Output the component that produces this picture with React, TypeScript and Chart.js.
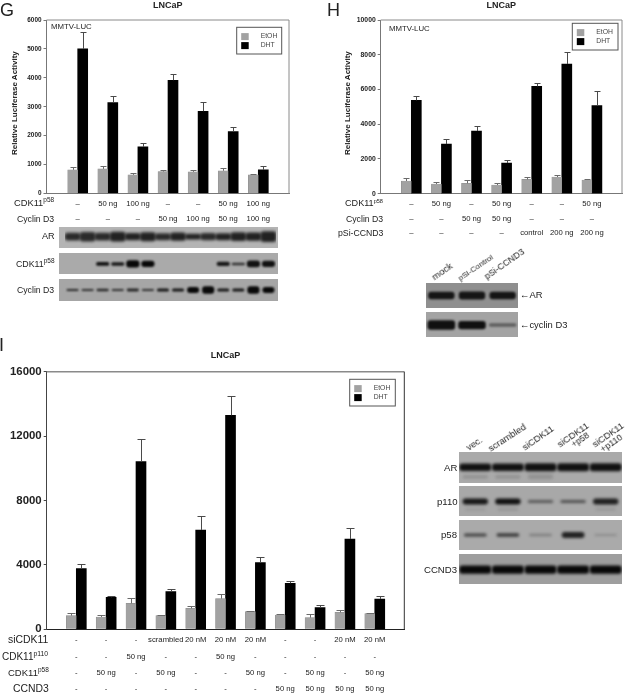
import React, { useEffect, useRef } from "react";
import { Chart, registerables } from "chart.js";

Chart.register(...registerables);

const FONT = "'Liberation Sans', Arial, sans-serif";
const TEXT = "#222";

// ---------- Panel G ----------
const gEtoh = [820, 850, 645, 760, 750, 785, 645];
const gEtohUpper = [910, 955, 700, 818, 818, 875, 680];
const gDht = [5000, 3145, 1613, 3917, 2845, 2143, 818];
const gDhtUpper = [5600, 3375, 1740, 4125, 3157, 2316, 968];
const gCdk = ["–", "50 ng", "100 ng", "–", "–", "50 ng", "100 ng"];
const gCyclin = ["–", "–", "–", "50 ng", "100 ng", "50 ng", "100 ng"];

// ---------- Panel H ----------
const hEtoh = [730, 557, 595, 500, 825, 960, 787];
const hEtohUpper = [921, 653, 806, 614, 940, 1055, 864];
const hDht = [5374, 2860, 3608, 1766, 6180, 7466, 5067];
const hDhtUpper = [5604, 3148, 3877, 1920, 6392, 8138, 5893];
const hCdk = ["–", "50 ng", "–", "50 ng", "–", "–", "50 ng"];
const hCyclin = ["–", "–", "50 ng", "50 ng", "–", "–", "–"];
const hPsi = ["–", "–", "–", "–", "control", "200 ng", "200 ng"];

// ---------- Panel I ----------
const iEtoh = [849, 766, 1615, 849, 1304, 1905, 1097, 890, 725, 1056, 973];
const iEtohUpper = [994, 911, 1925, 890, 1470, 2174, 1139, 932, 932, 1180, 1014];
const iDht = [3768, 1988, 10414, 2340, 6170, 13292, 4141, 2857, 1346, 5610, 1884];
const iDhtUpper = [4037, 2050, 11800, 2484, 7040, 14513, 4513, 2981, 1491, 6294, 2050];
const iSi = ["-", "-", "-", "scrambled", "20 nM", "20 nM", "20 nM", "-", "-", "20 nM", "20 nM"];
const iP110 = ["-", "-", "50 ng", "-", "-", "50 ng", "-", "-", "-", "-", "-"];
const iP58 = ["-", "50 ng", "-", "50 ng", "-", "-", "50 ng", "-", "50 ng", "-", "50 ng"];
const iCcnd3 = ["-", "-", "-", "-", "-", "-", "-", "50 ng", "50 ng", "50 ng", "50 ng"];

// ---------- Blot band strengths, lane by lane ----------
const gArWidth = [0.34, 0.42, 0.34, 0.44, 0.32, 0.4, 0.3, 0.36, 0.24, 0.32, 0.3, 0.38, 0.36, 0.48];
const gArDark = [0.8, 0.8, 0.8, 0.85, 0.85, 0.85, 0.8, 0.85, 0.85, 0.8, 0.85, 0.85, 0.85, 0.85];
const gCdkWidth = [0, 0, 0.18, 0.17, 0.34, 0.3, 0, 0, 0, 0, 0.2, 0.12, 0.32, 0.3];
const gCdkDark = [0, 0, 0.95, 0.9, 1, 1, 0, 0, 0, 0, 0.9, 0.75, 0.95, 0.95];
const gCycWidth = [0.1, 0.09, 0.11, 0.1, 0.13, 0.09, 0.14, 0.14, 0.28, 0.34, 0.14, 0.14, 0.34, 0.28];
const gCycDark = [0.8, 0.75, 0.8, 0.75, 0.8, 0.75, 0.9, 0.9, 1, 1, 0.9, 0.9, 1, 1];

const hArWidth = [0.3, 0.32, 0.3];
const hArDark = [0.9, 0.9, 0.9];
const hCycWidth = [0.38, 0.33, 0.14];
const hCycDark = [0.95, 0.95, 0.45];

const iArWidth = [0.24, 0.24, 0.26, 0.26, 0.26];
const iArDark = [0.95, 0.95, 0.95, 0.95, 0.95];
const iArFaint = [0.12, 0.12, 0.16, 0, 0];
const iP110Width = [0.2, 0.2, 0.1, 0.1, 0.2];
const iP110Dark = [0.9, 0.95, 0.5, 0.55, 0.85];
const iP110Faint = [0.05, 0.07, 0, 0, 0.06];
const iP58Width = [0.1, 0.12, 0.08, 0.2, 0.06];
const iP58Dark = [0.65, 0.7, 0.28, 0.85, 0.2];
const iCcnd3Width = [0.28, 0.27, 0.27, 0.27, 0.27];
const iCcnd3Dark = [1, 1, 1, 1, 1];

const legendNames = ["EtOH", "DHT"];

function band(center: number, w: number[]) {
  return w.map((t) => [center - t / 2, center + t / 2]);
}

function BarPanel(props: any) {
  const ref = useRef<HTMLCanvasElement | null>(null);
  const p = props.p;
  useEffect(() => {
    const errorBars = {
      id: "errorBars",
      afterDatasetsDraw(chart: any) {
        const ctx = chart.ctx;
        const y = chart.scales.y;
        ctx.save();
        ctx.lineWidth = 1;
        chart.data.datasets.forEach((ds: any, i: number) => {
          const meta = chart.getDatasetMeta(i);
          ctx.strokeStyle = ds.whiskerColor;
          meta.data.forEach((bar: any, j: number) => {
            const up = Math.round(y.getPixelForValue(ds.upper[j])) + 0.5;
            const x = Math.round(bar.x) + 0.5;
            ctx.beginPath();
            ctx.moveTo(x, bar.y);
            ctx.lineTo(x, up);
            ctx.moveTo(x - p.cap, up);
            ctx.lineTo(x + p.cap, up);
            ctx.stroke();
          });
        });
        ctx.restore();
      },
    };
    const frame = {
      id: "frame",
      afterDraw(chart: any) {
        const { ctx, chartArea: a } = chart;
        ctx.save();
        ctx.lineWidth = p.frameTopWidth;
        ctx.strokeStyle = p.frameTop;
        ctx.beginPath();
        ctx.moveTo(a.left, a.top);
        ctx.lineTo(a.right, a.top);
        ctx.stroke();
        ctx.lineWidth = 1;
        ctx.strokeStyle = p.frameRight;
        ctx.beginPath();
        ctx.moveTo(a.right, a.top);
        ctx.lineTo(a.right, a.bottom);
        ctx.stroke();
        // legend box
        const l = p.legend;
        const x = a.right - l.right - l.w;
        const yy = a.top + l.top;
        ctx.fillStyle = "#fff";
        ctx.strokeStyle = "#555";
        ctx.fillRect(x, yy, l.w, l.h);
        ctx.strokeRect(x, yy, l.w, l.h);
        chart.data.datasets.forEach((ds: any, i: number) => {
          const rowY = yy + 9.3 + i * 9;
          ctx.fillStyle = ds.backgroundColor;
          ctx.fillRect(x + 4.5, rowY - 3.5, 7.5, 7);
          ctx.fillStyle = "#444";
          ctx.font = `6.8px ${FONT}`;
          ctx.textBaseline = "middle";
          ctx.textAlign = "left";
          ctx.fillText(ds.label, x + 24, rowY);
        });
        ctx.restore();
      },
    };
    const toXY = (a: number[]) => a.map((v, i) => ({ x: i + 1, y: v }));
    const chart = new Chart(ref.current as any, {
      type: "bar",
      data: {
        datasets: [
          {
            label: legendNames[0],
            data: toXY(p.etoh),
            backgroundColor: "#a2a2a2",
            borderColor: "#8c8c8c",
            borderWidth: 0.5,
            barThickness: 10,
            upper: p.etohUpper,
            whiskerColor: "#6a6a6a",
          },
          {
            label: legendNames[1],
            data: toXY(p.dht),
            backgroundColor: "#000000",
            barThickness: 10,
            upper: p.dhtUpper,
            whiskerColor: "#4a4a4a",
          },
        ] as any,
      },
      plugins: [errorBars, frame],
      options: {
        animation: false,
        responsive: false,
        layout: { padding: { right: p.w - p.right, top: 0, left: 0, bottom: 0 } },
        plugins: {
          legend: { display: false },
          tooltip: { enabled: false },
          title: {
            display: true,
            text: "LNCaP",
            color: TEXT,
            fullSize: false,
            font: { family: FONT, size: 9, weight: "bold", lineHeight: 1.2 },
            padding: { top: p.titleTop, bottom: p.top - p.titleTop - 10.8 },
          },
        },
        scales: {
          x: {
            type: "linear",
            min: p.xMin,
            max: p.xMax,
            offset: false,
            grid: { display: false, drawTicks: false },
            border: { color: p.frameBottom },
            afterFit(s: any) {
              s.height = p.h - p.bottom;
            },
            ticks: {
              stepSize: 1,
              includeBounds: false,
              autoSkip: false,
              maxRotation: 0,
              minRotation: 0,
              padding: p.rowPad,
              color: TEXT,
              font: { family: FONT, size: p.cellFont, lineHeight: p.rowH + "px" },
              callback(v: any) {
                const n = p.rows[0].length;
                return v >= 1 && v <= n && Number.isInteger(v) ? p.rows.map((r: string[]) => r[v - 1]) : "";
              },
            },
          } as any,
          y: {
            min: 0,
            max: p.yMax,
            grid: { drawOnChartArea: false, tickLength: 3, color: p.frameLeft },
            border: { color: p.frameLeft },
            afterFit(s: any) {
              s.width = p.left;
            },
            ticks: {
              stepSize: p.yStep,
              padding: 2,
              color: TEXT,
              font: { family: FONT, size: p.yFont, weight: "bold" },
              callback: (v: any) => String(v),
            },
          },
        },
      } as any,
    });
    return () => chart.destroy();
  }, []);
  return <canvas ref={ref} width={p.w} height={p.h} style={{ position: "absolute", left: p.x, top: p.y }} />;
}

function Strip(props: any) {
  const ref = useRef<HTMLCanvasElement | null>(null);
  const s = props.s;
  useEffect(() => {
    const blur = {
      id: "blur",
      beforeDatasetsDraw(chart: any) {
        chart.ctx.save();
        chart.ctx.filter = `blur(${s.blur ?? 1.1}px)`;
      },
      afterDatasetsDraw(chart: any) {
        chart.ctx.restore();
      },
    };
    const sets = [
      {
        data: band(s.center, s.width),
        backgroundColor: s.dark.map((d: number) => `rgba(8,8,8,${d})`),
        borderRadius: 3,
        borderSkipped: false,
        barPercentage: s.fill,
        categoryPercentage: 1,
        grouped: false,
      },
    ];
    if (s.faint) {
      sets.push({
        data: band(s.faintCenter, s.faint),
        backgroundColor: s.faint.map(() => "rgba(40,40,40,0.18)"),
        borderRadius: 3,
        borderSkipped: false,
        barPercentage: s.fill * 0.8,
        categoryPercentage: 1,
        grouped: false,
      });
    }
    const chart = new Chart(ref.current as any, {
      type: "bar",
      data: { labels: s.width.map((_: number, i: number) => String(i + 1)), datasets: sets as any },
      plugins: [blur],
      options: {
        animation: false,
        responsive: false,
        layout: { padding: { left: s.padL ?? 0, right: s.padR ?? 0 } },
        plugins: { legend: { display: false }, tooltip: { enabled: false } },
        scales: {
          x: { display: false },
          y: { display: false, min: 0, max: 1, reverse: true },
        },
      } as any,
    });
    return () => chart.destroy();
  }, []);
  return (
    <canvas
      ref={ref}
      width={s.r - s.l}
      height={s.b - s.t}
      style={{ position: "absolute", left: s.l, top: s.t, background: s.bg }}
    />
  );
}

function Txt(props: any) {
  const { x, rx, y, size, bold, color, children, rot } = props;
  const style: any = {
    position: "absolute",
    top: y,
    fontFamily: FONT,
    fontSize: size,
    fontWeight: bold ? "bold" : "normal",
    color: color || TEXT,
    whiteSpace: "nowrap",
    lineHeight: 1,
    willChange: "transform",
    transform: rot ? `rotate(${rot}deg)` : "translateY(-50%)",
    transformOrigin: "0 0",
  };
  if (rx !== undefined) style.right = 626 - rx;
  else style.left = x;
  return <div style={style}>{children}</div>;
}

const Sup = (props: any) => (
  <sup style={{ fontSize: props.size, lineHeight: 0, verticalAlign: "baseline", position: "relative", top: -props.size * 0.55 }}>
    {props.children}
  </sup>
);

const panelG = {
  x: 0, y: 0, w: 313, h: 226, left: 46.5, right: 289, top: 20, bottom: 193.5,
  etoh: gEtoh, etohUpper: gEtohUpper, dht: gDht, dhtUpper: gDhtUpper, rows: [gCdk, gCyclin],
  xMin: -0.0365, xMax: 8.02, yMax: 6000, yStep: 1000, yFont: 6.4, cellFont: 7.7, rowH: 14.6, rowPad: 3.5,
  titleTop: 0, cap: 3, frameTop: "#8a8a8a", frameTopWidth: 1, frameRight: "#8a8a8a", frameLeft: "#777", frameBottom: "#777",
  legend: { right: 7.3, top: 7.3, w: 45, h: 26.7 },
};
const panelH = {
  x: 313, y: 0, w: 313, h: 242, left: 67.7, right: 309, top: 20, bottom: 193.7,
  etoh: hEtoh, etohUpper: hEtohUpper, dht: hDht, dhtUpper: hDhtUpper, rows: [hCdk, hCyclin, hPsi],
  xMin: -0.017, xMax: 8.0, yMax: 10000, yStep: 2000, yFont: 6.8, cellFont: 7.7, rowH: 14.6, rowPad: 3,
  titleTop: 0, cap: 3, frameTop: "#8a8a8a", frameTopWidth: 1, frameRight: "#8a8a8a", frameLeft: "#777", frameBottom: "#777",
  legend: { right: 4, top: 3.3, w: 45.7, h: 26.7 },
};
const panelI = {
  x: 0, y: 340, w: 420, h: 355, left: 46.7, right: 404.3, top: 31.7, bottom: 289.3,
  etoh: iEtoh, etohUpper: iEtohUpper, dht: iDht, dhtUpper: iDhtUpper, rows: [iSi, iP110, iP58, iCcnd3],
  xMin: 0.008, xMax: 11.99, yMax: 16000, yStep: 4000, yFont: 11.4, cellFont: 7.7, rowH: 16.4, rowPad: 2.5,
  titleTop: 10.6, cap: 4, frameTop: "#8a8a8a", frameTopWidth: 1.5, frameRight: "#333", frameLeft: "#444", frameBottom: "#222",
  legend: { right: 9, top: 7.6, w: 45.6, h: 26.7 },
};

const strips = [
  { l: 59, r: 278, t: 227, b: 248, bg: "#b4b4b4", center: 0.46, width: gArWidth, dark: gArDark, fill: 1, padL: 6, padR: 2, blur: 1.5 },
  { l: 59, r: 278, t: 253, b: 274, bg: "#aaaaaa", center: 0.52, width: gCdkWidth, dark: gCdkDark, fill: 0.88, padL: 6, padR: 2 },
  { l: 59, r: 278, t: 279, b: 301, bg: "#a6a6a6", center: 0.5, width: gCycWidth, dark: gCycDark, fill: 0.8, padL: 6, padR: 2 },
  { l: 426, r: 518, t: 283, b: 308, bg: "#8f8f8f", center: 0.5, width: hArWidth, dark: hArDark, fill: 0.86, blur: 1.3 },
  { l: 426, r: 518, t: 312, b: 337, bg: "#a3a3a3", center: 0.52, width: hCycWidth, dark: hCycDark, fill: 0.9, blur: 1.3 },
  { l: 459, r: 622, t: 452, b: 483, bg: "#aaaaaa", center: 0.49, width: iArWidth, dark: iArDark, fill: 0.98, faint: iArFaint, faintCenter: 0.8, blur: 1.4 },
  { l: 459, r: 622, t: 486, b: 516, bg: "#a8a8a8", center: 0.52, width: iP110Width, dark: iP110Dark, fill: 0.78, faint: iP110Faint, faintCenter: 0.78, blur: 1.4 },
  { l: 459, r: 622, t: 520, b: 550, bg: "#aaaaaa", center: 0.5, width: iP58Width, dark: iP58Dark, fill: 0.7, blur: 1.4 },
  { l: 459, r: 622, t: 554, b: 584, bg: "#9e9e9e", center: 0.52, width: iCcnd3Width, dark: iCcnd3Dark, fill: 0.98, blur: 1.5 },
];

export default function App() {
  return (
    <div style={{ position: "absolute", left: 0, top: 0, width: 626, height: 695, background: "#fff", overflow: "hidden" }}>
      <BarPanel p={panelG} />
      <BarPanel p={panelH} />
      <BarPanel p={panelI} />
      {strips.map((s, i) => (
        <Strip key={i} s={s} />
      ))}

      <Txt x={0} y={10} size={18}>G</Txt>
      <Txt x={327} y={10} size={18}>H</Txt>
      <Txt x={-1.5} y={344.5} size={18}>I</Txt>

      <Txt x={50.7} y={27.3} size={7.8}>MMTV-LUC</Txt>
      <Txt x={388.7} y={29.3} size={7.8}>MMTV-LUC</Txt>

      <Txt x={11} y={155} size={8} bold rot={-90}>Relative Luciferase Activity</Txt>
      <Txt x={344} y={155} size={8} bold rot={-90}>Relative Luciferase Activity</Txt>

      {/* G row headings */}
      <Txt rx={54.3} y={204.3} size={9.3}>CDK11<Sup size={6.5}>p58</Sup></Txt>
      <Txt rx={54.3} y={219} size={8.7}>Cyclin D3</Txt>
      <Txt rx={54.3} y={236.7} size={9.1}>AR</Txt>
      <Txt rx={54.3} y={264} size={8.8}>CDK11<Sup size={6.5}>p58</Sup></Txt>
      <Txt rx={54.3} y={290} size={8.7}>Cyclin D3</Txt>

      {/* H row headings */}
      <Txt rx={383} y={204} size={9.1}>CDK11<Sup size={5.6}>p58</Sup></Txt>
      <Txt rx={383} y={218.5} size={8.7}>Cyclin D3</Txt>
      <Txt rx={383} y={233.3} size={8.7}>pSi-CCND3</Txt>
      <Txt x={429.5} y={273.5} size={9.6} rot={-35}>mock</Txt>
      <Txt x={456.5} y={275.5} size={8} rot={-34}>pSi-Control</Txt>
      <Txt x={483} y={274} size={8.9} rot={-35}>pSi-CCND3</Txt>
      <Txt x={520} y={295} size={9.4}>←AR</Txt>
      <Txt x={520} y={324.5} size={9.4}>←cyclin D3</Txt>

      {/* I row headings */}
      <Txt rx={48.3} y={640} size={10.4}>siCDK11</Txt>
      <Txt rx={48.3} y={657} size={10}>CDK11<Sup size={6.8}>p110</Sup></Txt>
      <Txt rx={48.3} y={673} size={9.5}>CDK11<Sup size={6.5}>p58</Sup></Txt>
      <Txt rx={48.3} y={689} size={10.4}>CCND3</Txt>

      <Txt rx={457.5} y={467.5} size={9.6}>AR</Txt>
      <Txt rx={457.5} y={501.5} size={9.6}>p110</Txt>
      <Txt rx={457.5} y={535} size={9.6}>p58</Txt>
      <Txt rx={457.5} y={569.5} size={9.6}>CCND3</Txt>

      <Txt x={465} y={445} size={9.3} rot={-33}>vec.</Txt>
      <Txt x={486.5} y={446} size={9.3} rot={-33}>scrambled</Txt>
      <Txt x={521} y={445} size={9.3} rot={-35}>siCDK11</Txt>
      <Txt x={556} y={442} size={9.3} rot={-35}>siCDK11</Txt>
      <Txt x={570} y={442} size={8.6} rot={-35}>+p58</Txt>
      <Txt x={591} y={442} size={9.3} rot={-35}>siCDK11</Txt>
      <Txt x={599} y={447} size={9} rot={-35}>+p110</Txt>
    </div>
  );
}
